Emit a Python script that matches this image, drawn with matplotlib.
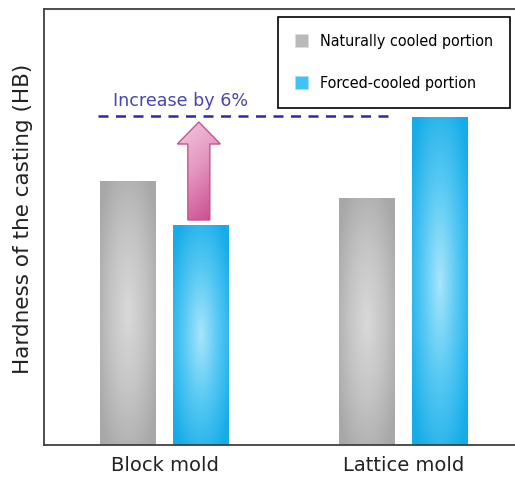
import matplotlib
matplotlib.use("Agg")
import matplotlib.pyplot as plt
import numpy as np
from matplotlib.colors import LinearSegmentedColormap
from matplotlib.patches import Polygon, Patch

groups = ["Block mold", "Lattice mold"]
natural = [263, 246]   # hardness, naturally cooled portion
forced = [219, 327]    # hardness, forced-cooled portion
note = "Increase by 6%"

gray_cm = LinearSegmentedColormap.from_list("g", ["#d9d9d9", "#c4c4c4", "#a8a8a8"])
blue_cm = LinearSegmentedColormap.from_list("b", ["#a6e5fc", "#55c8f3", "#16ace8"])
pink_cm = LinearSegmentedColormap.from_list("p", ["#f2cde0", "#e497c0", "#cc4f91"])


def radial(n=200):
    u = np.linspace(-1, 1, n)
    U, V = np.meshgrid(u, u)
    r = np.sqrt(U**2 + V**2) / 1.25
    return np.clip(r, 0, 1)


def shade_bars(ax, bars, cmap):
    img = radial()
    for b in bars:
        x0, y0 = b.get_x(), b.get_y()
        w, h = b.get_width(), b.get_height()
        ax.imshow(img, cmap=cmap, extent=(x0, x0 + w, y0, y0 + h),
                  aspect="auto", zorder=2, interpolation="bilinear")


fig = plt.figure(figsize=(5.15, 4.82), dpi=100)
ax = fig.add_axes([44 / 515, 37 / 482, 1 - 44 / 515, 436 / 482])

x = np.arange(len(groups))
w = 0.234
off = 0.152
b1 = ax.bar(x - off, natural, w, color="#b8b8b8", zorder=1)
b2 = ax.bar(x + off, forced, w, color="#3cbdf0", zorder=1)
shade_bars(ax, b1, gray_cm)
shade_bars(ax, b2, blue_cm)

# dashed reference line at the top of the lattice forced-cooled bar
top = forced[1]
ax.plot([-0.277, x[1] - off + w / 2 - 0.005], [top + 2, top + 2], ls=(0, (4, 3)),
        color="#2a2aa6", lw=1.8, zorder=3)
ax.text(-0.215, top + 12, note, color="#4646b4", fontsize=12.6, zorder=4)

# up arrow from the block forced-cooled bar to the reference line
cx = x[0] + off - 0.008
y0 = forced[0] + 6
y1 = top - 4
sw = 0.046
hw = 0.09
hl = 22
pts = [(cx - sw, y0), (cx + sw, y0), (cx + sw, y1 - hl), (cx + hw, y1 - hl),
       (cx, y1), (cx - hw, y1 - hl), (cx - sw, y1 - hl)]
arrow = Polygon(pts, closed=True, facecolor="none", edgecolor="#c4548e",
                lw=1.0, zorder=5)
ax.add_patch(arrow)
n = 200
gu = np.linspace(0, 1, n)
GX, GY = np.meshgrid(gu, gu)
grad = np.clip(0.75 * (1 - GY) + 0.35 * GX, 0, 1)
im = ax.imshow(grad, cmap=pink_cm, extent=(cx - hw, cx + hw, y1, y0),
               aspect="auto", zorder=4, interpolation="bilinear")
im.set_clip_path(arrow)

ax.set_xlim(-0.504, 1.467)
ax.set_ylim(0, 436)
ax.set_xticks(x)
ax.set_xticklabels(groups, fontsize=14, color="#222222")
ax.tick_params(axis="x", length=0, pad=8)
ax.set_yticks([])
ax.set_ylabel("Hardness of the casting (HB)", fontsize=15.5, color="#222222")
ax.yaxis.set_label_coords(-0.024, 0.518)
ax.spines["right"].set_visible(False)
for s in ["left", "top", "bottom"]:
    ax.spines[s].set_color("#404040")
    ax.spines[s].set_linewidth(1.3)

handles = [Patch(facecolor="#b9b9b9", edgecolor="#dddddd", lw=0.5),
           Patch(facecolor="#40c2f2", edgecolor="#9fe0fa", lw=0.5)]
leg = fig.legend(handles, ["Naturally cooled portion", "Forced-cooled portion"],
                 loc="upper right", bbox_to_anchor=(510 / 515, 465 / 482),
                 borderaxespad=0, fancybox=False, framealpha=1,
                 edgecolor="black", handlelength=0.85, handleheight=0.85,
                 handletextpad=0.75, labelspacing=1.7, borderpad=1.05,
                 prop={"family": "DejaVu Sans", "stretch": "condensed", "size": 11.5})
leg.get_frame().set_linewidth(1.2)

fig.savefig("out.png", dpi=100)
